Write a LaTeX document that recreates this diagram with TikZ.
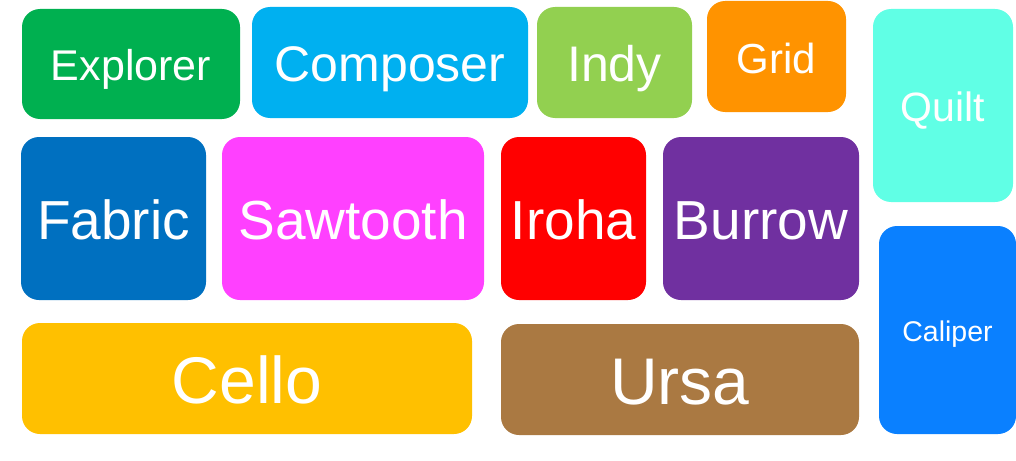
\documentclass[tikz,border=0pt]{standalone}
\usepackage{fontspec}
\setmainfont{Liberation Sans}
\definecolor{cExplorer}{HTML}{00B050}
\definecolor{cComposer}{HTML}{00B0F0}
\definecolor{cIndy}{HTML}{92D050}
\definecolor{cGrid}{HTML}{FF9300}
\definecolor{cQuilt}{HTML}{60FFE5}
\definecolor{cFabric}{HTML}{0070C0}
\definecolor{cSawtooth}{HTML}{FF40FF}
\definecolor{cIroha}{HTML}{FF0000}
\definecolor{cBurrow}{HTML}{7030A0}
\definecolor{cCello}{HTML}{FFC000}
\definecolor{cUrsa}{HTML}{AA7942}
\definecolor{cCaliper}{HTML}{0A80FF}
\tikzset{tile/.style={rounded corners=18pt, inner sep=0pt, text=white, text depth=0pt, align=center}}
\newcommand{\mytile}[7]{%
  \pgfmathsetmacro{\cx}{(#2+#4)/2}%
  \pgfmathsetmacro{\cy}{(#3+#5)/2}%
  \pgfmathsetmacro{\ww}{#4-#2}%
  \pgfmathsetmacro{\hh}{#5-#3}%
  \pgfmathsetmacro{\th}{0.716*#7+3}%
  \node[tile, fill=c#1, minimum width=\ww pt, minimum height=\hh pt, text height=\th pt,
        font=\fontsize{#7}{#7}\selectfont] (#1) at (\cx,\cy) {#6};}
\begin{document}
\begin{tikzpicture}[x=1pt,y=-1pt]
\useasboundingbox (0,0) rectangle (1016,460);
\mytile{Explorer}{22}{9}{240}{119}{Explorer}{43}
\mytile{Composer}{252}{7}{528}{118}{Composer}{50}
\mytile{Indy}{537}{7}{692}{118}{Indy}{50}
\mytile{Grid}{707}{1}{846}{112}{Grid}{42}
\mytile{Quilt}{873}{9}{1013}{202}{Quilt}{41}
\mytile{Fabric}{21}{137}{206}{300}{Fabric}{55}
\mytile{Sawtooth}{222}{137}{484}{300}{Sawtooth}{55}
\mytile{Iroha}{501}{137}{646}{300}{Iroha}{55}
\mytile{Burrow}{663}{137}{859}{300}{Burrow}{55}
\mytile{Cello}{22}{323}{472}{434}{Cello}{66}
\mytile{Ursa}{501}{324}{859}{435}{Ursa}{66}
\mytile{Caliper}{879}{226}{1016}{434}{Caliper}{28.5}
\end{tikzpicture}
\end{document}
